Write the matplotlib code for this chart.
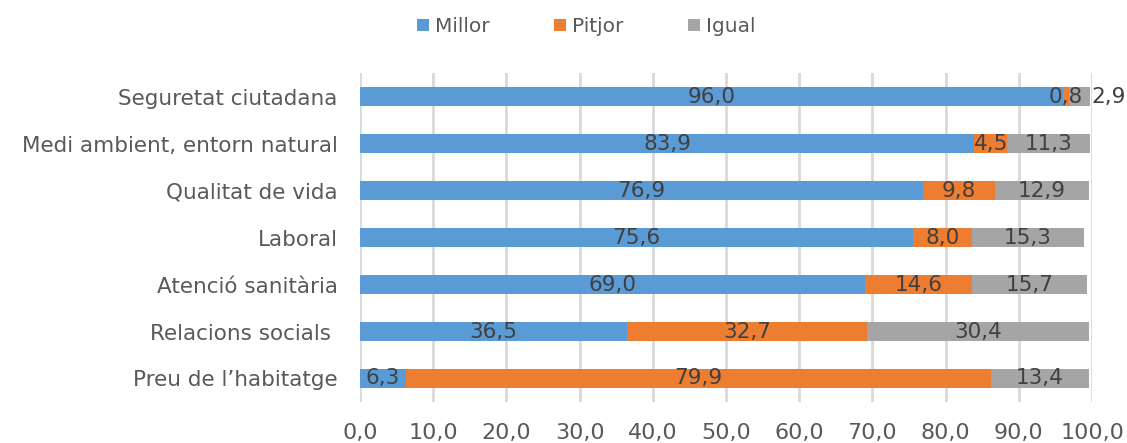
import numpy as np
import matplotlib
matplotlib.use("Agg")
import matplotlib.pyplot as plt

plt.rcParams['font.family'] = ['DejaVu Sans']

# Data (top to bottom in the chart)
categories = ["Seguretat ciutadana", "Medi ambient, entorn natural", "Qualitat de vida",
              "Laboral", "Atenció sanitària", "Relacions socials ", "Preu de l’habitatge"]
millor = [96.0, 83.9, 76.9, 75.6, 69.0, 36.5, 6.3]
pitjor = [0.8, 4.5, 9.8, 8.0, 14.6, 32.7, 79.9]
igual = [2.9, 11.3, 12.9, 15.3, 15.7, 30.4, 13.4]
series_names = ["Millor", "Pitjor", "Igual"]
colors = ["#5B9BD5", "#ED7D31", "#A5A5A5"]
ticks = np.arange(0, 101, 10)

fig = plt.figure(figsize=(11.27, 4.43), dpi=100)
ax = fig.add_axes([0.3194, 0.0926, 0.6496, 0.7424])

y = np.arange(len(categories))[::-1]
left = np.zeros(len(categories))
for vals, name, col in zip([millor, pitjor, igual], series_names, colors):
    vals = np.array(vals)
    ax.barh(y, vals, left=left, height=0.42, color=col, label=name, zorder=3)
    for yi, l, v in zip(y, left, vals):
        txt = f"{v:.1f}".replace(".", ",")
        x = l + v / 2
        ha = "center"
        # tiny last segment: label pushed outside the bar
        if name == "Igual" and v < 5:
            x = l + v + 0.2
            ha = "left"
        ax.text(x, yi, txt, ha=ha, va="center", fontsize=15.5, color="#404040", zorder=4)
    left = left + vals

ax.set_xlim(0, 100)
ax.set_ylim(-0.5, 6.5)
ax.set_xticks(ticks)
ax.set_xticklabels([f"{t:.1f}".replace(".", ",") for t in ticks], fontsize=16, color="#595959")
ax.set_yticks(y)
ax.set_yticklabels(categories, fontsize=15.5, color="#595959")
ax.tick_params(axis="both", length=0)
ax.tick_params(axis="x", pad=15)
ax.tick_params(axis="y", pad=16)
ax.grid(axis="x", color="#D9D9D9", linewidth=2, zorder=0)
for s in ax.spines.values():
    s.set_visible(False)

fig.legend(loc="center", bbox_to_anchor=(0.52, 0.94), ncol=3, frameon=False,
           fontsize=14.5, handlelength=0.6, handleheight=0.6, handletextpad=0.3,
           columnspacing=3.2, labelcolor="#595959")

fig.savefig("out.png", dpi=100)
